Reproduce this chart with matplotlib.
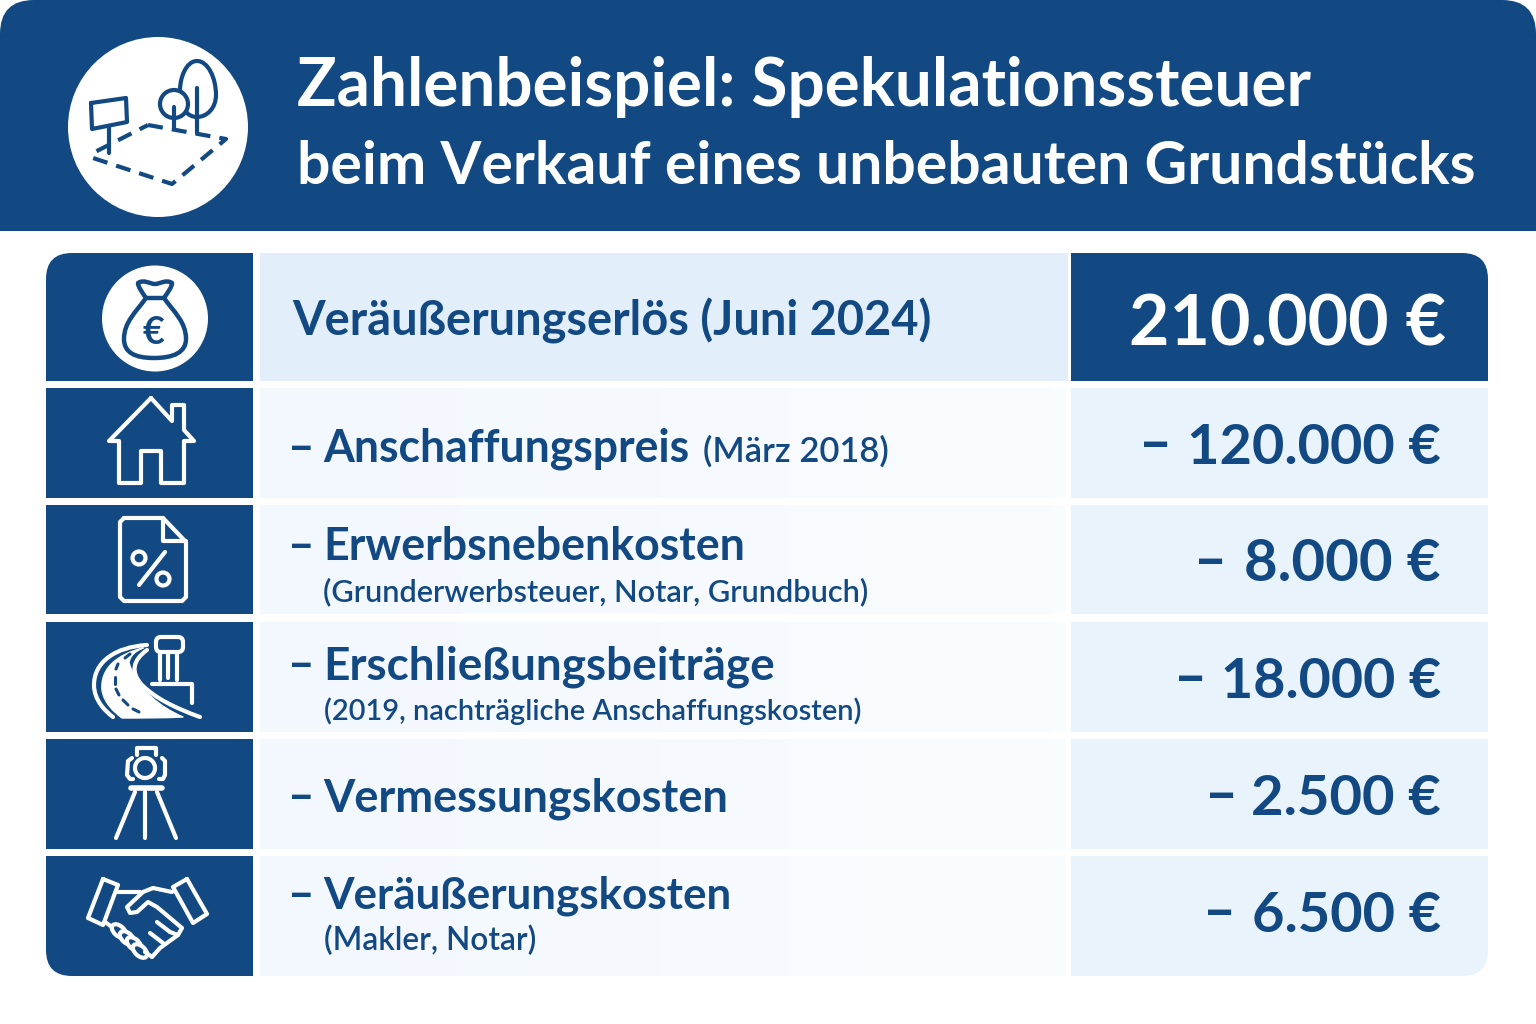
import numpy as np
import matplotlib
matplotlib.use("Agg")
import matplotlib.pyplot as plt
from matplotlib.patches import Circle, Ellipse, FancyBboxPatch, PathPatch, Rectangle
from matplotlib.path import Path

# Data
title_lines = ["Zahlenbeispiel: Spekulationssteuer", "beim Verkauf eines unbebauten Grundstücks"]
top_label = "Veräußerungserlös (Juni 2024)"
top_amount = "210.000 €"
cost_labels = ["Anschaffungspreis", "Erwerbsnebenkosten", "Erschließungsbeiträge", "Vermessungskosten", "Veräußerungskosten"]
cost_notes = ["(März 2018)", "(Grunderwerbsteuer, Notar, Grundbuch)", "(2019, nachträgliche Anschaffungskosten)", "", "(Makler, Notar)"]
cost_amounts = [120000, 8000, 18000, 2500, 6500]

BLUE = "#124982"
FONT = "Lato"

fig = plt.figure(figsize=(15.36, 10.24), dpi=100)
ax = fig.add_axes([0, 0, 1, 1])
ax.set_xlim(0, 1536)
ax.set_ylim(1024, 0)
ax.axis("off")
renderer = fig.canvas.get_renderer()


def fit_text(x, y, s, width, size, color=BLUE, weight="bold", ha="left"):
    # shrink or grow the font so the text spans the width seen in the reference
    t = ax.text(x, y, s, color=color, fontsize=size, fontweight=weight, family=FONT, va="baseline", ha=ha, zorder=6)
    t.set_fontsize(size * width / t.get_window_extent(renderer).width)
    return t


def line(pts, color=BLUE, lw=3.0, **kw):
    xs, ys = zip(*pts)
    ax.plot(xs, ys, color=color, lw=lw, solid_capstyle="round", solid_joinstyle="round", zorder=5, **kw)


def curve(verts, color=BLUE, lw=3.0, fill=False):
    # verts: start point followed by cubic control triples
    codes = [Path.MOVETO] + [Path.CURVE4] * (len(verts) - 1)
    ax.add_patch(PathPatch(Path(verts, codes), fc=color if fill else "none", ec=color, lw=lw,
                           capstyle="round", joinstyle="round", zorder=5))


def gradient(x0, x1, y0, y1, c0, c1, clip):
    c0 = np.array(matplotlib.colors.to_rgb(c0))
    c1 = np.array(matplotlib.colors.to_rgb(c1))
    t = np.linspace(0, 1, 64)[None, :, None]
    im = ax.imshow(c0 + (c1 - c0) * t, extent=(x0, x1, y1, y0), aspect="auto", zorder=1)
    im.set_clip_path(clip)


# Header band
head_clip = Rectangle((0, 0), 1536, 231, transform=ax.transData)
head = FancyBboxPatch((0, 0), 1536, 320, boxstyle="round,pad=0,rounding_size=34", fc=BLUE, ec="none", zorder=1)
ax.add_patch(head)
head.set_clip_path(head_clip)
ax.add_patch(Circle((158, 127), 90, fc="white", ec="none", zorder=2))
fit_text(297, 106, title_lines[0], 1012, 47, color="white")
fit_text(297, 184, title_lines[1], 1180, 45, color="white")

# Plot of land icon
line([(91, 103), (126, 98), (127, 122), (92, 129), (91, 103)])
line([(109, 127), (109, 153)])
ax.plot([148, 226, 172, 93, 93, 148], [125, 139, 184, 158, 153, 125], color=BLUE, lw=3, ls=(0, (3.6, 2.2)), zorder=5)
curve([(197, 61), (208, 61), (216, 78), (216, 95), (216, 108), (207, 117), (197, 117),
       (187, 117), (180, 108), (180, 90), (180, 78), (186, 61), (197, 61)])
line([(197, 88), (197, 133)])
ax.add_patch(Circle((174, 104), 14, fc="white", ec=BLUE, lw=3, zorder=5))
line([(174, 107), (174, 129)])

# Table
rows = [(253, 381), (388, 498), (505, 614), (622, 732), (739, 849), (856, 976)]
table_clip = FancyBboxPatch((46, 253), 1442, 723, boxstyle="round,pad=0,rounding_size=26", transform=ax.transData)
for i, (y0, y1) in enumerate(rows):
    icon_cell = Rectangle((46, y0), 207, y1 - y0, fc=BLUE, ec="none", zorder=2)
    ax.add_patch(icon_cell)
    icon_cell.set_clip_path(table_clip)
    if i == 0:
        ax.add_patch(Rectangle((260, y0), 808, y1 - y0, fc="#e2effb", ec="none", zorder=2))
        right = Rectangle((1071, y0), 417, y1 - y0, fc=BLUE, ec="none", zorder=2)
        ax.add_patch(right)
        right.set_clip_path(table_clip)
    else:
        gradient(260, 1065, y0, y1, "#f3f8fe", "#f9fcff", table_clip)
        right = Rectangle((1071, y0), 417, y1 - y0, fc="#e9f3fc", ec="none", zorder=2)
        ax.add_patch(right)
        right.set_clip_path(table_clip)

ax.set_xlim(0, 1536)
ax.set_ylim(1024, 0)

# First row text
fit_text(292, 335, top_label, 640, 33)
fit_text(1446, 345, top_amount, 317, 50, color="white", ha="right")

# Cost rows
label_base = [462, 560, 679, 811, 909]
label_width = [367, 422, 452, 405, 410]
note_x = [703, 323, 324, None, 324]
note_base = [462, 601, 720, None, 950]
note_width = [186, 549, 539, None, 213]
minus_x = [1142, 1197, 1177, 1208, 1206]
amount_width = [253, 196, 220, 190, 189]
for i, (name, note, amount) in enumerate(zip(cost_labels, cost_notes, cost_amounts)):
    ax.text(288, label_base[i], "–", color=BLUE, fontsize=33, fontweight="bold", family=FONT, va="baseline", zorder=6)
    fit_text(323, label_base[i], name, label_width[i], 33)
    if note:
        fit_text(note_x[i], note_base[i], note, note_width[i], 23, weight="semibold")
    amount_text = f"{amount:,}".replace(",", ".") + " €"
    yb = rows[i + 1][0] + 76
    fit_text(1441, yb, amount_text, amount_width[i], 40, ha="right")
    ax.text(minus_x[i] - 3, yb - 2, "–", color=BLUE, fontsize=41, fontweight="bold", family=FONT, va="baseline", zorder=6)

# Money bag icon
ax.add_patch(Circle((155, 318.5), 53, fc="white", ec="none", zorder=3))
curve([(146, 298), (136, 312), (124, 322), (124, 339), (124, 352), (134, 358), (154, 358),
       (174, 358), (186, 352), (186, 339), (186, 322), (174, 312), (164, 298)], lw=3.2)
curve([(146, 298), (142, 292), (138, 287), (138, 283), (144, 279), (150, 284), (155, 284),
       (160, 284), (166, 279), (172, 283), (172, 287), (168, 292), (164, 298)], lw=3.2)
line([(146, 298), (164, 298)], lw=3.2)
ax.text(153, 333, "€", color=BLUE, fontsize=27, fontweight="bold", family=FONT, ha="center", va="center", zorder=6)

W = "white"
# House icon
line([(151, 398), (109, 441), (119, 441), (119, 483), (141, 483), (141, 451), (161, 451), (161, 483), (184, 483),
      (184, 441), (194, 441), (184, 430), (184, 405), (172, 405), (172, 421), (151, 398)], color=W)

# Document icon
line([(124, 518), (163, 518), (186, 542), (186, 597), (182, 601), (124, 601), (120, 597), (120, 522), (124, 518)], color=W)
line([(163, 518), (163, 541), (186, 541)], color=W)
ax.add_patch(Circle((139, 558), 6.5, fc="none", ec=W, lw=3, zorder=5))
ax.add_patch(Circle((163, 579), 6.5, fc="none", ec=W, lw=3, zorder=5))
line([(165, 552), (139, 585)], color=W)

# Road icon
curve([(143, 648), (118, 654), (100, 668), (102, 690), (104, 703), (114, 712), (122, 718),
       (142, 718), (162, 718), (183, 717), (160, 707), (138, 690), (129, 663), (130, 655), (136, 651), (143, 648)],
      color=W, lw=1, fill=True)
curve([(147, 645), (115, 647), (94, 662), (94, 685), (94, 700), (105, 711), (113, 717)], color=W)
curve([(147, 650), (133, 660), (130, 672), (142, 685), (155, 698), (175, 708), (200, 717)], color=W)
for a, b in [((130, 654), (125, 658)), ((118, 664), (116, 669)), ((115, 677), (115, 684)),
             ((116, 689), (119, 695)), ((123, 700), (128, 705)), ((133, 709), (139, 712))]:
    line([a, b], lw=2.2)
ax.add_patch(FancyBboxPatch((156, 637), 27, 15, boxstyle="round,pad=0,rounding_size=5", fc="none", ec=W, lw=3, zorder=5))
line([(160, 652), (160, 680)], color=W)
line([(168, 652), (168, 678)], color=W)
line([(177, 652), (177, 680)], color=W)
line([(152, 684), (192, 684), (192, 703)], color=W)

# Surveying tripod icon
ax.add_patch(Circle((145, 768), 10, fc="none", ec=W, lw=3, zorder=5))
line([(132, 758), (128, 761), (127, 775), (130, 779), (133, 779)], color=W)
line([(162, 758), (165, 761), (165, 775), (163, 779), (159, 779)], color=W)
line([(137, 755), (137, 748), (156, 748), (156, 755)], color=W)
line([(131, 788), (162, 788)], color=W, lw=4)
line([(135, 792), (116, 838)], color=W)
line([(145, 792), (145, 838)], color=W)
line([(157, 792), (176, 838)], color=W)

# Handshake icon
line([(103, 879), (118, 885), (103, 925), (88, 918), (103, 879)], color=W)
line([(187, 879), (207, 914), (193, 923), (173, 887), (187, 879)], color=W)
line([(118, 892), (140, 892)], color=W)
line([(172, 892), (153, 888), (143, 892), (127, 907), (130, 913), (137, 912), (148, 902), (157, 907), (182, 928),
      (178, 935), (170, 932)], color=W)
line([(105, 922), (112, 927)], color=W)
for cx, cy in [(119, 931), (127, 938), (134, 944), (140, 951)]:
    ax.add_patch(Ellipse((cx, cy), 17, 10, angle=42, fc=BLUE, ec=W, lw=3, zorder=5))
line([(145, 952), (152, 957), (160, 948), (178, 935)], color=W)
line([(157, 922), (170, 932)], color=W)
line([(150, 933), (163, 943)], color=W)

fig.savefig("out.png", dpi=100)
